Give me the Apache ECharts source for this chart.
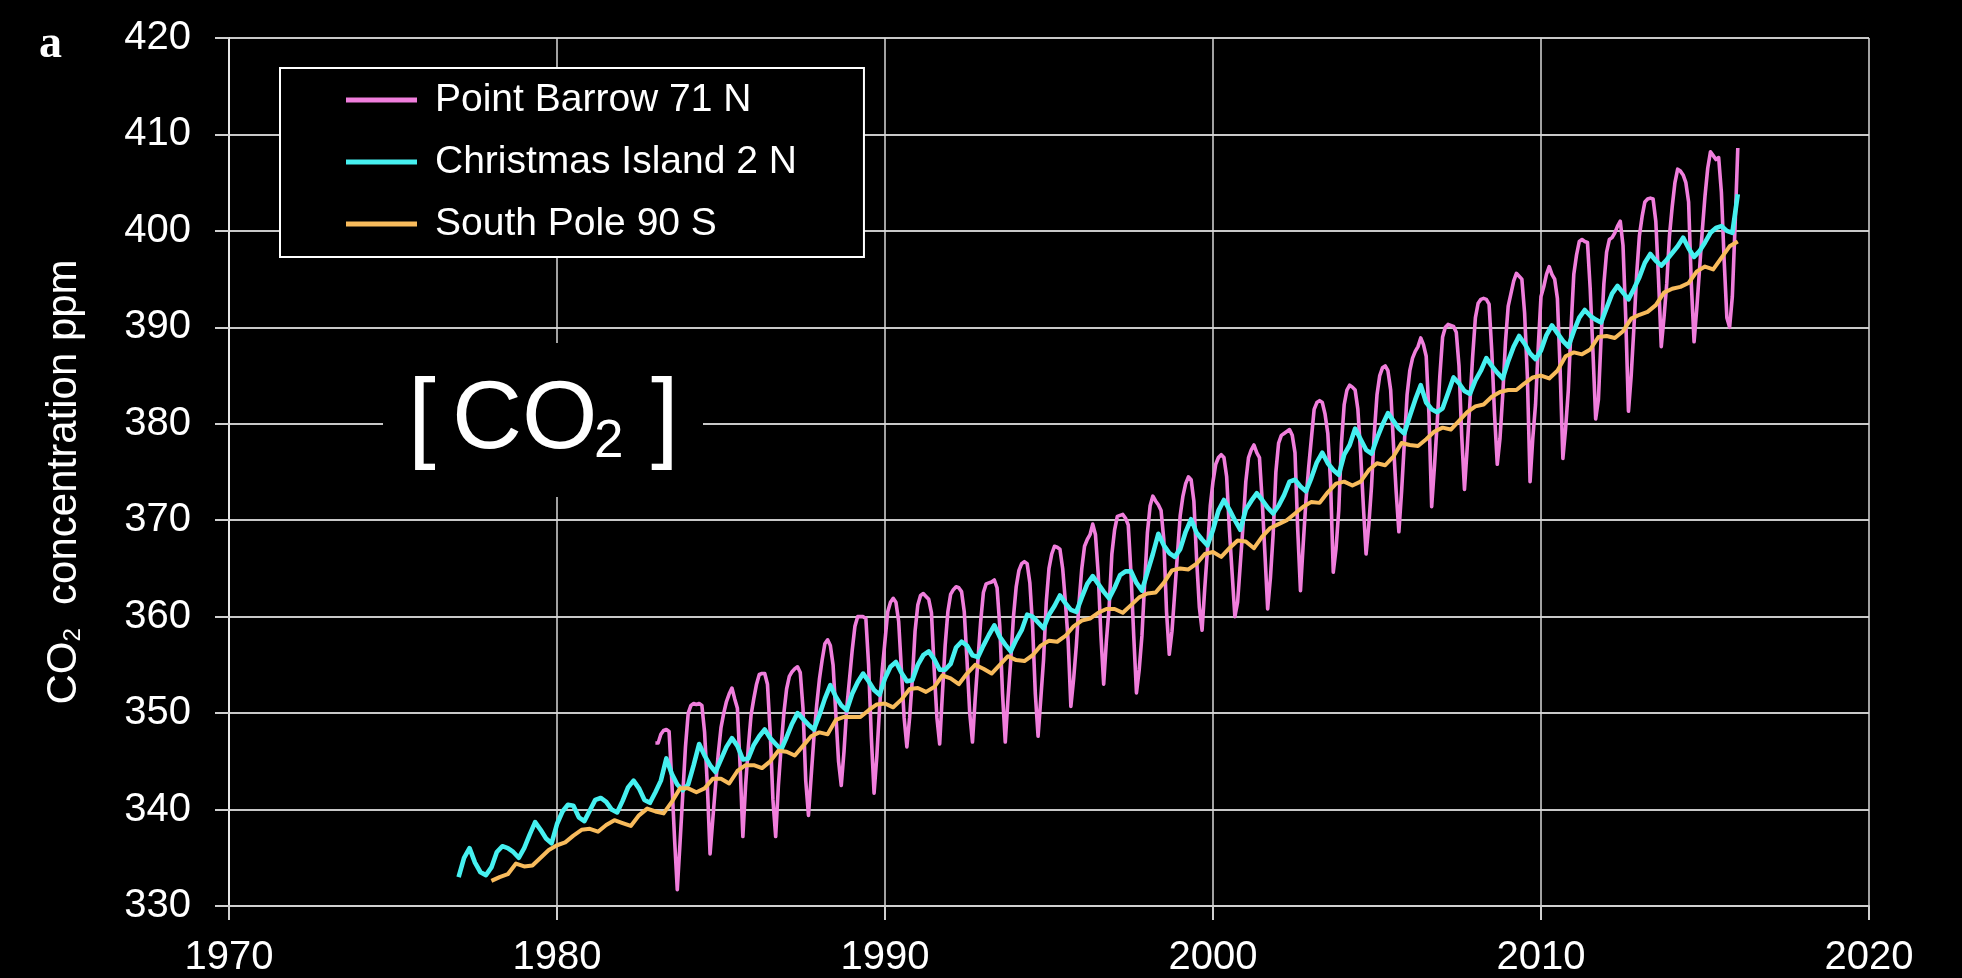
<!DOCTYPE html>
<html>
<head>
<meta charset="utf-8">
<script src="https://cdn.jsdelivr.net/npm/echarts@6/dist/echarts.min.js"></script>
<style>
html,body{margin:0;padding:0;background:#000;}
#chart{width:1962px;height:978px;}
</style>
</head>
<body>
<div id="chart"></div>
<script>
// ---------------- DATA ----------------
const seriesNames = ['Point Barrow 71 N', 'Christmas Island 2 N', 'South Pole 90 S'];
const xTickYears = [1970, 1980, 1990, 2000, 2010, 2020];
const yTickValues = [330, 340, 350, 360, 370, 380, 390, 400, 410, 420];

// Point Barrow: monthly values, first value = Jan 1983
const barrowStartYear = 1983;
const barrowStepYears = 1 / 12;
const barrowCO2 = [
  346.9,346.9,347.8,348.2,348.3,348.1,343.0,337.0,331.7,336.5,341.5,346.5,
  350.0,350.8,351.0,350.9,351.0,350.8,348.0,342.5,335.4,339.0,342.5,345.8,
  348.5,350.0,351.2,352.0,352.6,351.5,350.5,344.5,337.2,342.5,346.5,349.8,
  351.5,353.0,354.0,354.1,354.1,353.0,348.0,341.0,337.2,342.5,346.5,350.0,
  352.5,353.8,354.3,354.6,354.8,354.2,350.5,343.0,339.4,343.5,347.5,350.8,
  353.5,355.5,357.2,357.6,357.0,355.0,350.0,345.0,342.5,346.0,350.5,353.5,
  356.5,359.0,360.0,360.0,360.0,359.8,355.0,347.5,341.7,345.5,350.5,354.5,
  357.5,360.5,361.5,361.9,361.5,359.5,354.5,349.5,346.5,349.5,353.5,358.5,
  361.2,362.2,362.4,362.1,361.8,360.4,354.5,349.5,346.8,352.0,357.0,360.5,
  362.3,362.8,363.1,363.0,362.6,360.5,355.5,350.0,347.0,351.5,355.5,359.5,
  362.5,363.4,363.5,363.6,363.8,363.0,359.0,352.0,347.0,351.5,355.5,360.0,
  363.1,364.8,365.5,365.7,365.5,363.5,359.0,352.0,347.6,351.5,355.5,361.5,
  365.0,366.5,367.3,367.2,367.0,365.0,361.5,357.5,350.7,353.5,357.0,361.5,
  365.0,367.3,368.0,368.5,369.6,368.5,364.5,358.0,353.0,357.5,361.0,366.5,
  369.0,370.4,370.5,370.6,370.2,369.5,364.5,358.0,352.1,354.5,358.0,363.5,
  368.7,371.5,372.5,372.0,371.6,371.0,368.0,360.5,356.1,358.5,362.5,366.5,
  370.5,372.5,373.8,374.5,374.2,372.0,366.0,361.0,358.6,363.0,367.0,371.5,
  374.0,375.8,376.5,376.8,376.5,374.5,369.0,364.5,360.0,361.5,365.5,369.5,
  374.0,376.5,377.3,377.8,377.0,376.5,372.0,366.5,360.8,364.0,368.5,375.0,
  378.0,378.8,379.0,379.2,379.4,378.8,377.0,369.0,362.7,367.5,372.0,375.5,
  378.5,381.5,382.2,382.4,382.2,381.0,379.0,374.0,364.6,367.0,371.0,378.0,
  382.0,383.5,384.0,383.8,383.5,381.5,377.0,371.5,366.5,369.5,373.5,379.0,
  383.0,385.0,385.8,386.0,385.5,383.5,378.0,373.0,368.8,373.0,378.0,383.0,
  385.5,386.8,387.5,388.0,388.9,388.2,387.0,381.0,371.4,375.5,380.0,385.0,
  389.0,390.0,390.3,390.2,390.1,389.5,386.0,378.7,373.2,377.5,382.2,387.0,
  391.0,392.5,392.9,393.0,392.9,392.4,387.5,381.0,375.8,378.5,383.0,388.5,
  392.2,393.5,394.8,395.6,395.3,395.0,391.5,385.0,374.0,378.5,382.0,388.0,
  393.2,394.2,395.5,396.3,395.5,395.0,393.0,385.6,376.4,379.5,383.5,390.0,
  395.5,397.5,398.9,399.1,398.9,398.8,394.0,387.5,380.5,382.5,389.0,394.5,
  397.8,399.1,399.3,399.8,400.5,401.0,398.5,391.0,381.3,385.0,390.0,395.5,
  399.5,401.5,403.0,403.3,403.4,403.3,401.0,395.0,388.0,391.0,394.5,399.5,
  402.5,405.0,406.4,406.2,405.8,405.0,403.0,394.5,388.5,392.0,396.0,400.0,
  403.6,406.5,408.2,407.8,407.4,407.6,404.0,397.0,391.0,390.0,393.2,400.5,
  408.6
];

// Christmas Island: values every two months, first value = Jan 1977
const christmasStartYear = 1977;
const christmasStepYears = 1 / 6;
const christmasCO2 = [
  333.0,335.0,336.0,334.5,333.5,333.2,
  334.0,335.6,336.2,336.0,335.6,335.0,
  336.0,337.4,338.7,337.9,337.0,336.5,
  338.5,339.8,340.5,340.4,339.2,338.8,
  339.9,341.0,341.2,340.8,340.0,339.7,
  340.9,342.3,343.0,342.2,341.0,340.7,
  341.8,343.0,345.3,343.7,342.6,342.0,
  342.6,344.6,346.8,345.6,344.6,343.9,
  345.2,346.5,347.4,346.6,345.2,345.3,
  346.7,347.6,348.3,347.4,346.8,346.2,
  347.5,348.9,350.0,349.4,348.8,348.3,
  349.8,351.5,352.9,351.7,350.8,350.3,
  352.0,353.2,354.1,353.3,352.4,351.9,
  353.6,354.8,355.3,354.2,353.3,353.4,
  355.0,356.0,356.4,355.6,354.5,354.5,
  355.1,356.8,357.4,357.0,356.0,355.8,
  357.0,358.1,359.1,357.9,357.1,356.4,
  357.6,358.6,360.2,360.0,359.4,358.8,
  360.2,361.1,362.2,361.4,360.7,360.5,
  362.0,363.4,364.2,363.4,362.6,361.9,
  363.0,364.3,364.7,364.7,363.5,362.7,
  364.6,366.5,368.6,367.4,366.6,366.2,
  367.0,368.8,370.1,368.7,368.0,367.4,
  369.0,371.0,372.1,371.1,370.0,369.0,
  371.1,372.0,372.8,372.1,371.3,370.7,
  371.5,372.6,374.0,374.2,373.5,373.0,
  374.4,376.0,377.0,375.9,375.2,374.7,
  376.8,377.8,379.5,378.4,377.3,376.9,
  378.5,379.9,381.1,380.3,379.5,379.0,
  380.8,382.5,384.0,382.2,381.5,381.2,
  381.6,383.2,384.8,384.2,383.4,383.1,
  384.5,385.5,386.8,386.0,385.3,384.7,
  386.5,388.0,389.1,388.3,387.3,386.7,
  387.6,389.2,390.2,389.4,388.6,388.0,
  389.6,391.0,391.8,391.2,390.8,390.5,
  392.0,393.5,394.3,393.6,392.9,394.0,
  395.2,396.7,397.6,396.9,396.4,397.0,
  397.7,398.4,399.3,398.2,397.3,397.9,
  398.8,399.8,400.3,400.5,400.0,399.8,
  403.8
];

// South Pole: quarterly values, first value = Jan 1978
const southPoleStartYear = 1978;
const southPoleStepYears = 1 / 4;
const southPoleCO2 = [
  332.6,333.0,333.3,334.4,
  334.1,334.2,335.0,335.8,
  336.3,336.6,337.3,337.9,
  338.0,337.7,338.4,338.9,
  338.6,338.3,339.4,340.1,
  339.8,339.6,340.8,342.2,
  342.2,341.8,342.2,343.2,
  343.2,342.7,344.0,344.6,
  344.6,344.3,345.0,346.1,
  346.0,345.6,346.6,347.6,
  348.0,347.8,349.3,349.6,
  349.6,349.6,350.3,350.9,
  351.0,350.6,351.4,352.5,
  352.6,352.2,352.7,353.9,
  353.6,353.0,354.1,355.0,
  354.6,354.1,355.0,355.9,
  355.5,355.4,356.0,357.0,
  357.5,357.4,358.0,359.0,
  359.6,359.8,360.4,360.8,
  360.8,360.4,361.2,362.0,
  362.4,362.5,363.5,364.8,
  365.0,364.9,365.5,366.5,
  366.7,366.2,367.1,367.9,
  367.8,367.1,368.3,369.2,
  369.6,370.0,370.7,371.4,
  371.9,371.8,372.9,373.8,
  374.0,373.6,374.0,375.2,
  375.9,375.7,376.6,378.0,
  377.8,377.7,378.4,379.2,
  379.6,379.4,380.3,381.2,
  381.8,382.0,382.8,383.3,
  383.5,383.5,384.2,384.8,
  385.0,384.7,385.5,387.0,
  387.4,387.2,387.7,389.0,
  389.1,388.9,389.6,390.9,
  391.3,391.6,392.3,393.6,
  394.0,394.2,394.6,395.8,
  396.3,396.0,397.2,398.4,
  398.9
];

// ---------------- CHART ----------------
function toPairs(startYear, step, values) {
  return values.map(function (v, i) { return [startYear + i * step, v]; });
}

const FONT = 'Liberation Sans, Arial, Helvetica, sans-serif';
const colors = ['#F07EDC', '#46F0F0', '#F8BB5C'];

const chart = echarts.init(document.getElementById('chart'), null, { renderer: 'canvas' });

const option = {
  backgroundColor: '#000000',
  animation: false,
  grid: { left: 229, right: 93, top: 38, bottom: 72, containLabel: false },
  legend: {
    orient: 'vertical',
    left: 280,
    top: 68,
    padding: [10, 67, 11, 66],
    backgroundColor: '#000000',
    borderColor: '#ffffff',
    borderWidth: 2,
    itemWidth: 71,
    itemHeight: 5,
    itemGap: 18,
    icon: 'rect',
    textStyle: { color: '#ffffff', fontSize: 39, fontFamily: FONT, lineHeight: 44, padding: [0, 0, 0, 13] },
    data: seriesNames
  },
  xAxis: {
    type: 'value',
    min: xTickYears[0],
    max: xTickYears[xTickYears.length - 1],
    interval: 10,
    axisLine: { show: true, onZero: false, lineStyle: { color: '#d0d0d0', width: 2 } },
    axisTick: { show: true, length: 14, lineStyle: { color: '#d0d0d0', width: 2 } },
    axisLabel: { color: '#ffffff', fontSize: 40, fontFamily: FONT, margin: 32, formatter: function (v) { return String(v); } },
    splitLine: { show: true, lineStyle: { color: '#d8d8d8', width: 1.5 } }
  },
  yAxis: {
    type: 'value',
    min: yTickValues[0],
    max: yTickValues[yTickValues.length - 1],
    interval: 10,
    axisLine: { show: true, lineStyle: { color: '#e6e6e6', width: 2 } },
    axisTick: { show: true, length: 14, lineStyle: { color: '#d0d0d0', width: 2 } },
    axisLabel: { color: '#ffffff', fontSize: 40, fontFamily: FONT, margin: 38 },
    splitLine: { show: true, lineStyle: { color: '#c8c8c8', width: 2.2 } }
  },
  series: [
    {
      name: seriesNames[0], type: 'line', symbol: 'none', showSymbol: false,
      data: toPairs(barrowStartYear, barrowStepYears, barrowCO2),
      lineStyle: { color: colors[0], width: 3.6, join: 'round' },
      itemStyle: { color: colors[0] }
    },
    {
      name: seriesNames[1], type: 'line', symbol: 'none', showSymbol: false,
      data: toPairs(christmasStartYear, christmasStepYears, christmasCO2),
      lineStyle: { color: colors[1], width: 4.6, join: 'round' },
      itemStyle: { color: colors[1] }
    },
    {
      name: seriesNames[2], type: 'line', symbol: 'none', showSymbol: false,
      data: toPairs(southPoleStartYear, southPoleStepYears, southPoleCO2),
      lineStyle: { color: colors[2], width: 4, join: 'round' },
      itemStyle: { color: colors[2] }
    }
  ],
  graphic: [
    // panel letter
    {
      type: 'text', x: 39, y: 45, z: 100,
      style: { text: 'a', fill: '#ffffff', font: 'bold 46px "Liberation Serif", "Times New Roman", serif',
               align: 'left', verticalAlign: 'middle', textAlign: 'left', textVerticalAlign: 'middle' }
    },
    // y axis title
    {
      type: 'text', x: 64, y: 482, rotation: Math.PI / 2, z: 100,
      style: {
        text: '{a|CO}{b|2}{a|  concentration ppm}',
        align: 'center', verticalAlign: 'middle', textAlign: 'center', textVerticalAlign: 'middle',
        rich: {
          a: { fontSize: 42, fontFamily: FONT, fill: '#ffffff', color: '#ffffff' },
          b: { fontSize: 24, fontFamily: FONT, fill: '#ffffff', color: '#ffffff', verticalAlign: 'bottom' }
        }
      }
    },
    // [CO2] annotation
    {
      type: 'rect', z: 90,
      shape: { x: 383, y: 343, width: 320, height: 154 },
      style: { fill: '#000000' }
    },
    {
      type: 'text', x: 408, y: 421, z: 100,
      style: { text: '[', fill: '#ffffff', font: '100px ' + FONT, align: 'left', verticalAlign: 'middle', textAlign: 'left', textVerticalAlign: 'middle' }
    },
    {
      type: 'text', x: 452, y: 421, z: 100,
      style: { text: 'CO', fill: '#ffffff', font: '97px ' + FONT, align: 'left', verticalAlign: 'middle', textAlign: 'left', textVerticalAlign: 'middle' }
    },
    {
      type: 'text', x: 594, y: 442, z: 100,
      style: { text: '2', fill: '#ffffff', font: '53px ' + FONT, align: 'left', verticalAlign: 'middle', textAlign: 'left', textVerticalAlign: 'middle' }
    },
    {
      type: 'text', x: 651, y: 421, z: 100,
      style: { text: ']', fill: '#ffffff', font: '100px ' + FONT, align: 'left', verticalAlign: 'middle', textAlign: 'left', textVerticalAlign: 'middle' }
    }
  ]
};

chart.setOption(option);
</script>
</body>
</html>
